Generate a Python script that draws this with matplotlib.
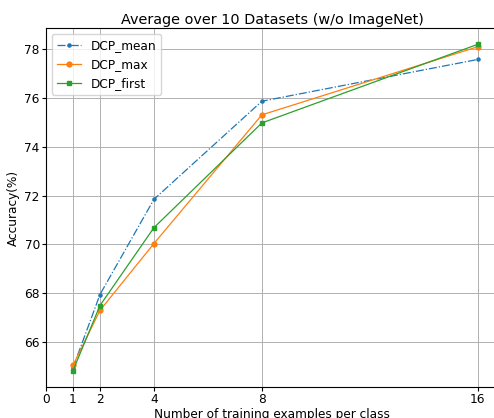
import matplotlib
matplotlib.use("Agg")
import matplotlib.pyplot as plt

# shots per class
shots = [1, 2, 4, 8, 16]
dcp_mean = [64.95, 67.95, 71.85, 75.87, 77.58]
dcp_max = [65.05, 67.3, 70.04, 75.31, 78.1]
dcp_first = [64.83, 67.5, 70.69, 74.98, 78.2]
xticks = [0, 1, 2, 4, 8, 16]

plt.rcParams['font.size'] = 8.7

fig = plt.figure(figsize=(4.94, 4.18), dpi=100)
ax = fig.add_axes([46 / 494, 31 / 418, 452 / 494, 359 / 418])

ax.plot(shots, dcp_mean, linestyle='-.', marker='.', markersize=4.5, linewidth=0.9, label='DCP_mean')
ax.plot(shots, dcp_max, linestyle='-', marker='o', markersize=3.5, linewidth=0.9, label='DCP_max')
ax.plot(shots, dcp_first, linestyle='-', marker='s', markersize=3.5, linewidth=0.9, label='DCP_first')

ax.set_xlim(0, 16.75)
ax.set_xticks(xticks)
ax.tick_params(length=3, pad=1.5)
ax.grid(True, linewidth=0.7)
ax.set_xlabel('Number of training examples per class', labelpad=1)
ax.set_ylabel('Accuracy(%)', labelpad=3)
ax.set_title('Average over 10 Datasets (w/o ImageNet)', fontsize=10.4, pad=3)
ax.legend(loc='upper left')

plt.savefig('out.png', dpi=100)
